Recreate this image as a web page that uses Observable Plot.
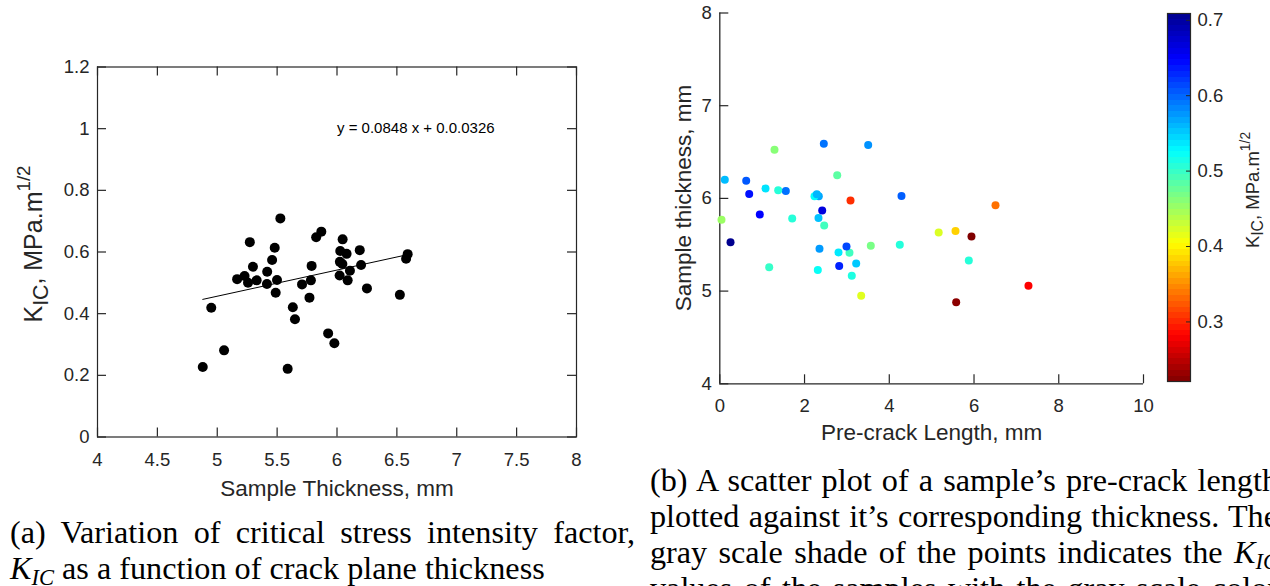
<!DOCTYPE html>
<html>
<head>
<meta charset="utf-8">
<script src="https://cdn.jsdelivr.net/npm/d3@7"></script>
<script src="https://cdn.jsdelivr.net/npm/@observablehq/plot@0.6"></script>
<style>
html,body{margin:0;padding:0;background:#fff;}
#page{position:relative;width:1270px;height:586px;overflow:hidden;background:#fff;}
.abs{position:absolute;}
.abs svg{display:block;max-width:none;}
.ylab{position:absolute;white-space:nowrap;font-family:"Liberation Sans",Arial,sans-serif;color:#262626;transform:translate(-50%,-50%) rotate(-90deg);line-height:1;}
.ylab sub{font-size:0.85em;vertical-align:-0.3em;line-height:0;}
.ylab sup{font-size:0.75em;vertical-align:0.6em;line-height:0;}
.cap{position:absolute;font-family:"Liberation Serif","Times New Roman",serif;font-size:32.2px;line-height:36px;color:#000;}
.cap .j{text-align:justify;text-align-last:justify;}
.cap sub{font-size:0.7em;vertical-align:-0.25em;line-height:0;}
</style>
</head>
<body>
<div id="page">
  <div id="plotA" class="abs" style="left:0;top:0;"></div>
  <div id="plotB" class="abs" style="left:640px;top:0;"></div>
  <div id="cbar" class="abs" style="left:1150px;top:0;"></div>

  <div class="ylab" style="left:33px;top:244px;font-size:25px;">K<sub>IC</sub>, MPa.m<sup>1/2</sup></div>
  <div class="ylab" style="left:684px;top:198px;font-size:22.5px;">Sample thickness, mm</div>
  <div class="ylab" style="left:1253px;top:190px;font-size:18.5px;">K<sub>IC</sub>, MPa.m<sup>1/2</sup></div>

  <div class="cap" style="left:10px;top:514px;width:625px;">
    <div class="j">(a) Variation of critical stress intensity factor,</div>
    <div><i>K</i><sub><i>IC</i></sub> as a function of crack plane thickness</div>
  </div>
  <div class="cap" style="left:650px;top:462px;width:628px;">
    <div class="j">(b) A scatter plot of a sample’s pre-crack length</div>
    <div class="j">plotted against it’s corresponding thickness. The</div>
    <div class="j">gray scale shade of the points indicates the <i>K</i><sub><i>IC</i></sub></div>
    <div class="j">values of the samples with the gray scale color bar</div>
  </div>
</div>
<script>
// ---- data (one entry per sample) ----
const thickness = [4.879, 4.950, 5.057, 5.166, 5.228, 5.257, 5.272, 5.298, 5.329, 5.417, 5.415, 5.458, 5.480, 5.488, 5.499, 5.527, 5.588, 5.631, 5.649, 5.708, 5.770, 5.782, 5.788, 5.826, 5.869, 5.926, 5.978, 6.024, 6.022, 6.027, 6.047, 6.045, 6.080, 6.089, 6.108, 6.190, 6.201, 6.250, 6.525, 6.577, 6.590];
const kic       = [0.227, 0.419, 0.281, 0.512, 0.522, 0.500, 0.632, 0.552, 0.508, 0.536, 0.496, 0.574, 0.614, 0.468, 0.509, 0.709, 0.221, 0.421, 0.382, 0.495, 0.452, 0.508, 0.555, 0.648, 0.666, 0.336, 0.304, 0.568, 0.524, 0.603, 0.641, 0.561, 0.594, 0.508, 0.539, 0.606, 0.558, 0.482, 0.461, 0.578, 0.593];
const precrack  = [5.579, 3.337, 7.285, 3.115, 2.313, 1.166, 2.818, 3.219, 5.877, 2.802, 3.061, 2.353, 2.990, 3.564, 4.248, 0.253, 5.940, 5.166, 5.563, 2.464, 0.040, 1.709, 2.329, 0.944, 2.417, 6.507, 3.085, 2.337, 2.235, 4.288, 0.694, 2.290, 1.558, 1.378, 1.079, 0.623, 0.118, 2.771, 1.291, 3.502, 2.455];

const xTicksA = [4, 4.5, 5, 5.5, 6, 6.5, 7, 7.5, 8];
const yTicksA = [0, 0.2, 0.4, 0.6, 0.8, 1, 1.2];
const xTicksB = [0, 2, 4, 6, 8, 10];
const yTicksB = [4, 5, 6, 7, 8];
const cbTicks = [0.3, 0.4, 0.5, 0.6, 0.7];

const fitSlope = 0.0848;
const fitIntercept = 0.0326;
const fitText = [{label: "y = 0.0848 x + 0.0.0326", x: 6, y: 1}];

const xLabelA = "Sample Thickness, mm";
const xLabelB = "Pre-crack Length, mm";

// jet colormap (reversed: low values dark red, high values dark blue)
const jetColors = ["#800000", "#ff0000", "#ffff00", "#00ffff", "#0000ff", "#00008f"];
const jetStops = [0, 0.125, 0.375, 0.625, 0.875, 1];

// ---- derived tables ----
const samples = thickness.map((t, i) => ({thickness: t, kic: kic[i], precrack: precrack[i]}));
const [tMin, tMax] = d3.extent(thickness);
const fitLine = [tMin, tMax].map(t => ({thickness: t, kic: fitSlope * t + fitIntercept}));
const [kMin, kMax] = d3.extent(kic);
const colorScale = {type: "linear", domain: jetStops.map(f => kMin + f * (kMax - kMin)), range: jetColors};

const axisColor = "#262626";
const tickLen = 9;
const baseStyle = {fontFamily: '"Liberation Sans", Arial, sans-serif', fontSize: "18.5px", color: axisColor, background: "transparent", overflow: "visible"};

// ---- plot (a) ----
const A = {w: 640, h: 510, ml: 97, mr: 64, mt: 66.5, mb: 73.5};
const fwA = A.w - A.ml - A.mr, fhA = A.h - A.mt - A.mb;
const plotA = Plot.plot({
  width: A.w, height: A.h,
  marginLeft: A.ml, marginRight: A.mr, marginTop: A.mt, marginBottom: A.mb,
  x: {domain: [4, 8]},
  y: {domain: [0, 1.2]},
  style: baseStyle,
  marks: [
    Plot.frame({stroke: axisColor, strokeWidth: 1.2}),
    Plot.tickX(xTicksA, {x: d => d, insetTop: fhA - tickLen, stroke: axisColor, strokeWidth: 1.2}),
    Plot.tickX(xTicksA, {x: d => d, insetBottom: fhA - tickLen, stroke: axisColor, strokeWidth: 1.2}),
    Plot.tickY(yTicksA, {y: d => d, insetRight: fwA - tickLen, stroke: axisColor, strokeWidth: 1.2}),
    Plot.tickY(yTicksA, {y: d => d, insetLeft: fwA - tickLen, stroke: axisColor, strokeWidth: 1.2}),
    Plot.axisX({ticks: xTicksA, tickSize: 0, tickPadding: 16, tickFormat: d => String(d), label: null}),
    Plot.axisY({ticks: yTicksA, tickSize: 0, tickPadding: 8, tickFormat: d => String(d), label: null}),
    Plot.line(fitLine, {x: "thickness", y: "kic", stroke: "#000", strokeWidth: 1}),
    Plot.dot(samples, {x: "thickness", y: "kic", r: 5, fill: "#000"}),
    Plot.text(fitText, {x: "x", y: "y", text: "label", textAnchor: "start", fontSize: 15, fill: "#000"}),
    Plot.text([xLabelA], {frameAnchor: "bottom", lineAnchor: "middle", dy: 52, fontSize: 22.5, fill: axisColor})
  ]
});
document.getElementById("plotA").append(plotA);

// ---- plot (b) ----
const B = {w: 520, h: 460, ml: 79.3, mr: 17, mt: 12.5, mb: 76.7};
const fwB = B.w - B.ml - B.mr, fhB = B.h - B.mt - B.mb;
const plotB = Plot.plot({
  width: B.w, height: B.h,
  marginLeft: B.ml, marginRight: B.mr, marginTop: B.mt, marginBottom: B.mb,
  x: {domain: [0, 10]},
  y: {domain: [4, 8]},
  color: colorScale,
  style: baseStyle,
  marks: [
    Plot.ruleX([0], {stroke: axisColor, strokeWidth: 1.3}),
    Plot.ruleY([4], {stroke: axisColor, strokeWidth: 1.3}),
    Plot.tickX(xTicksB, {x: d => d, insetTop: fhB - tickLen, stroke: axisColor, strokeWidth: 1.2}),
    Plot.tickY(yTicksB, {y: d => d, insetRight: fwB - tickLen, stroke: axisColor, strokeWidth: 1.2}),
    Plot.axisX({ticks: xTicksB, tickSize: 0, tickPadding: 15, tickFormat: d => String(d), label: null}),
    Plot.axisY({ticks: yTicksB, tickSize: 0, tickPadding: 8, tickFormat: d => String(d), label: null}),
    Plot.dot(samples, {x: "precrack", y: "thickness", r: 4, fill: "kic"}),
    Plot.text([xLabelB], {frameAnchor: "bottom", lineAnchor: "middle", dy: 49, fontSize: 22.5, fill: axisColor})
  ]
});
document.getElementById("plotB").append(plotB);

// ---- colour bar ----
const C = {w: 120, h: 400, ml: 17, mr: 80, mt: 13, mb: 19};
const fwC = C.w - C.ml - C.mr;
const barMarks = [];
if (typeof Plot.raster === "function") {
  barMarks.push(Plot.raster({fill: (x, y) => y, x1: 0, x2: 1, y1: kMin, y2: kMax, width: 1, height: 64, imageRendering: "pixelated"}));
} else {
  const bands = d3.range(64).map(i => ({y1: kMin + i * (kMax - kMin) / 64, y2: kMin + (i + 1) * (kMax - kMin) / 64}));
  barMarks.push(Plot.rect(bands, {x1: 0, x2: 1, y1: "y1", y2: "y2", fill: d => (d.y1 + d.y2) / 2}));
}
const cbar = Plot.plot({
  width: C.w, height: C.h,
  marginLeft: C.ml, marginRight: C.mr, marginTop: C.mt, marginBottom: C.mb,
  x: {domain: [0, 1], axis: null},
  y: {domain: [kMin, kMax]},
  color: colorScale,
  style: baseStyle,
  marks: [
    ...barMarks,
    Plot.tickY(cbTicks, {y: d => d, insetLeft: fwC - 4, stroke: axisColor, strokeWidth: 1}),
    Plot.frame({stroke: axisColor, strokeWidth: 1.2}),
    Plot.axisY({anchor: "right", ticks: cbTicks, tickSize: 0, tickPadding: 7, tickFormat: d => String(d), label: null})
  ]
});
document.getElementById("cbar").append(cbar);
</script>
</body>
</html>
